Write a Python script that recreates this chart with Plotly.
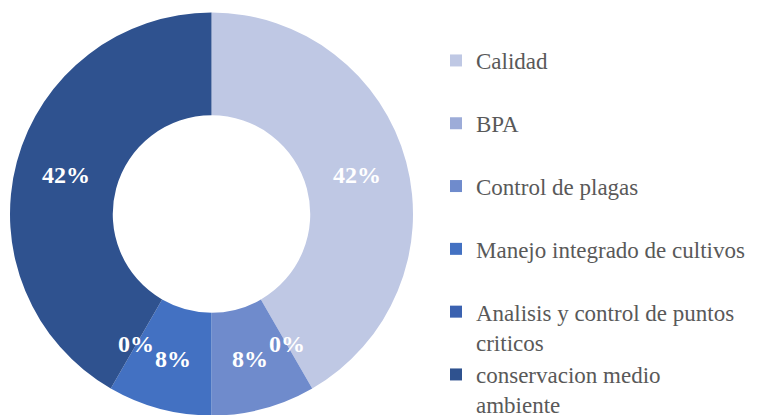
import math
import plotly.graph_objects as go

categories = ["Calidad", "BPA", "Control de plagas", "Manejo integrado de cultivos",
              "Analisis y control de puntos criticos", "conservacion medio ambiente"]
legend_labels = ["Calidad<br> ", "BPA<br> ", "Control de plagas<br> ",
                 "Manejo integrado de cultivos<br> ",
                 "Analisis y control de puntos<br>criticos",
                 "conservacion medio<br>ambiente"]
values = [5, 0, 1, 1, 0, 5]
colors = ["#bfc8e4", "#9dacd8", "#6f8bcc", "#4371c2", "#3b62b0", "#2f528f"]

SERIF = "Liberation Serif"

W, H = 757, 415
dom_x = [2 / W, 405 / W]
dom_y = [7.5 / H, 410.5 / H]

fig = go.Figure()
fig.add_trace(go.Pie(
    labels=legend_labels,
    values=values,
    marker=dict(colors=colors, line=dict(width=0)),
    hole=0.49,
    sort=False,
    direction="clockwise",
    rotation=0,
    textinfo="none",
    hoverinfo="label+percent",
    domain=dict(x=dom_x, y=dom_y),
))

# percentage labels placed at the middle of each ring segment
cx = (dom_x[0] + dom_x[1]) / 2 * W
cy = H - (dom_y[0] + dom_y[1]) / 2 * H
R = min((dom_x[1] - dom_x[0]) * W, (dom_y[1] - dom_y[0]) * H) / 2
r_lab = R * (1 + 0.49) / 2
total = sum(values)
cum = 0
for v in values:
    mid = (cum + v / 2) / total * 2 * math.pi
    cum += v
    px = cx + r_lab * math.sin(mid)
    py = cy - r_lab * math.cos(mid)
    fig.add_annotation(
        x=px / W, y=1 - py / H, xref="paper", yref="paper",
        xanchor="center", yanchor="middle",
        text=f"<b>{round(v / total * 100)}%</b>", showarrow=False,
        font=dict(family=SERIF, size=24, color="white"),
    )

fig.update_layout(
    width=W, height=H,
    margin=dict(l=0, r=0, t=0, b=0, autoexpand=False),
    paper_bgcolor="white",
    showlegend=True,
    legend=dict(
        x=428 / W, xanchor="left", y=1 - 31 / H, yanchor="top",
        font=dict(family=SERIF, size=23, color="#595959"),
        valign="top", itemclick=False,
    ),
)

fig.write_html("out.html")
